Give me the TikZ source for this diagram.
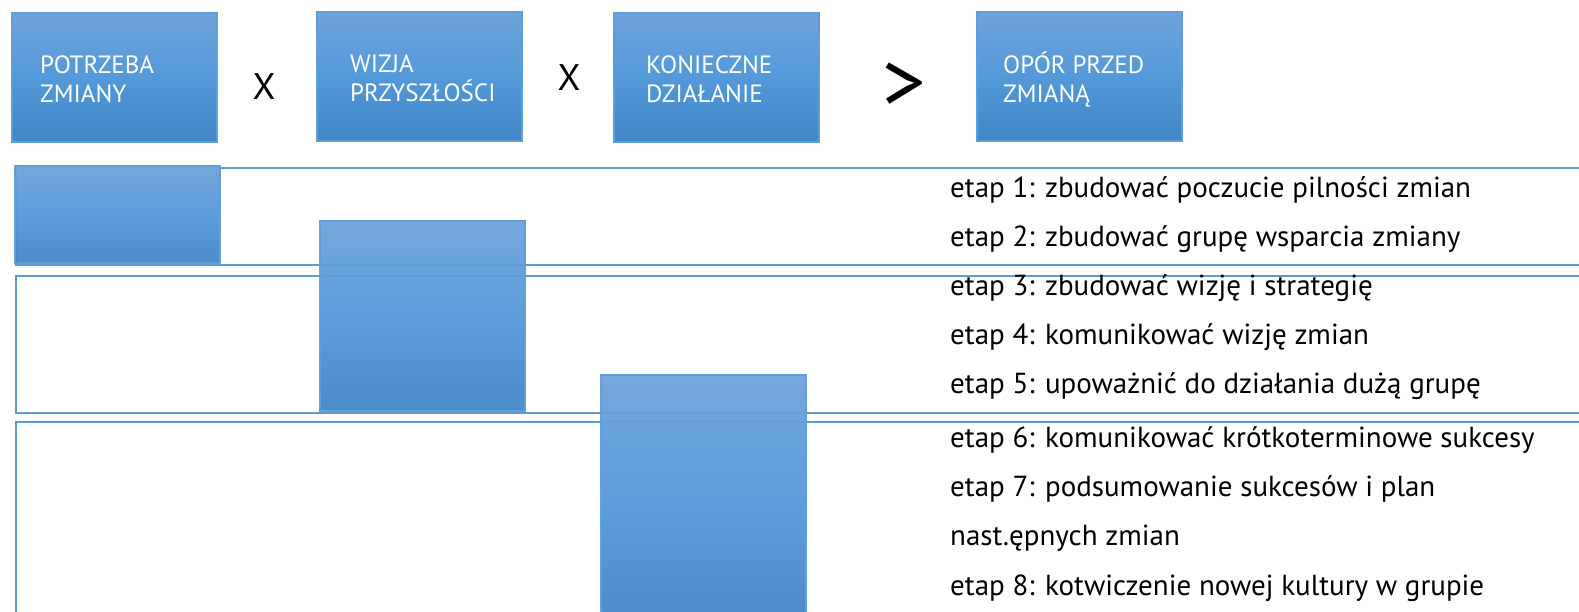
\documentclass[tikz,border=0pt]{standalone}
\usepackage{fontspec}
\setmainfont{PT Sans}
\definecolor{boxtop}{RGB}{110,164,219}
\definecolor{boxmid}{RGB}{83,153,218}
\definecolor{boxbot}{RGB}{64,135,199}
\definecolor{boxedge}{RGB}{96,158,216}
\definecolor{bandline}{RGB}{91,155,213}
\begin{document}
\begin{tikzpicture}[x=1pt,y=-1pt,
  bluebox/.style={draw=boxedge, line width=1.5pt, top color=boxtop, bottom color=boxbot, middle color=boxmid,
    anchor=north west, inner sep=0pt, minimum width=205pt},
  topbox/.style={bluebox, minimum height=129pt},
  boxtext/.style={anchor=base west, inner sep=0pt, text=white, align=left,
    font=\fontsize{25}{29}\selectfont},
  plainbox/.style={bluebox, fill opacity=0.95, draw opacity=0.95},
  band/.style={draw=bandline, line width=1.5pt},
  opsign/.style={text=black, inner sep=0pt},
  stage/.style={anchor=base west, inner sep=0pt, text=black, font=\fontsize{29}{34}\selectfont}]
\useasboundingbox (0,0) rectangle (1579,611);
\fill[white] (0,0) rectangle (1579,611);
% top row
\node[topbox] (need) at (11,12) {};
\node[boxtext] (needt) at ([shift={(29,90)}]need.north west) {POTRZEBA\\ZMIANY};
\node[opsign, font=\fontsize{37}{37}\selectfont] (x1) at (264,87) {X};
\node[topbox] (vision) at (316,11) {};
\node[boxtext] (visiont) at ([shift={(34,90)}]vision.north west) {WIZJA\\PRZYSZŁOŚCI};
\node[opsign, font=\fontsize{37}{37}\selectfont] (x2) at (569,78) {X};
\node[topbox] (action) at (613,12) {};
\node[boxtext] (actiont) at ([shift={(33,90)}]action.north west) {KONIECZNE\\DZIAŁANIE};
\node[opsign, font=\fontsize{86}{86}\selectfont] (gt) at (904,87) {>};
\node[topbox] (resist) at (976,11) {};
\node[boxtext] (resistt) at ([shift={(27,91)}]resist.north west) {OPÓR PRZED\\ZMIANĄ};
% bands
\draw[band] (1590,168) -| (16,265) -- (1590,265);
\draw[band] (1590,276) -| (16,413) -- (1590,413);
\draw[band] (1590,422) -| (16,620);
% stage boxes
\node[plainbox, minimum height=97pt] (s1) at (14,165) {};
\node[plainbox, minimum height=190pt] (s2) at (319,220) {};
\node[plainbox, minimum height=250pt] (s3) at (600,374) {};
% stages text
\node[stage] (e1) at (950,197) {etap 1: zbudować poczucie pilności zmian};
\node[stage] (e2) at (950,246) {etap 2: zbudować grupę wsparcia zmiany};
\node[stage] (e3) at (950,295) {etap 3: zbudować wizję i strategię};
\node[stage] (e4) at (950,344) {etap 4: komunikować wizję zmian};
\node[stage] (e5) at (950,393) {etap 5: upoważnić do działania dużą grupę};
\node[stage] (e6) at (950,447) {etap 6: komunikować krótkoterminowe sukcesy};
\node[stage] (e7) at (950,496) {etap 7: podsumowanie sukcesów i plan};
\node[stage] (e7b) at (950,545) {nast.ępnych zmian};
\node[stage] (e8) at (950,595) {etap 8: kotwiczenie nowej kultury w grupie};
\end{tikzpicture}
\end{document}
